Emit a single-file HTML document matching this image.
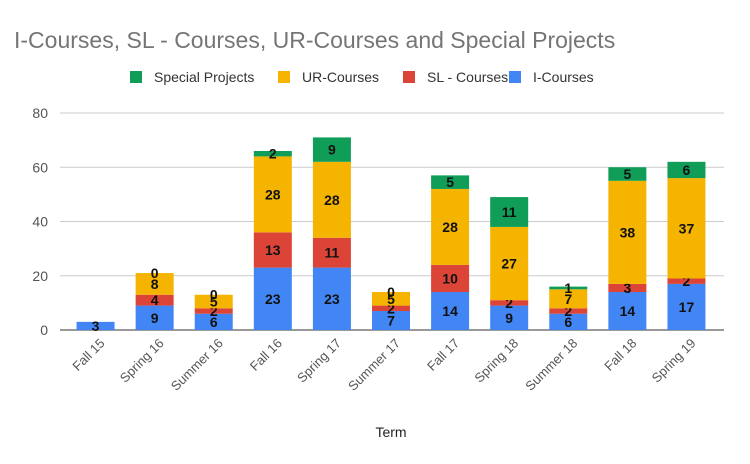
<!DOCTYPE html>
<html><head><meta charset="utf-8"><style>
html,body{margin:0;padding:0;background:#fff;width:750px;height:464px;overflow:hidden}
svg text{font-family:"Liberation Sans",sans-serif}
</style></head><body>
<svg id="chart" width="750" height="464">
<text x="14" y="48" font-size="23" fill="#757575">I-Courses, SL - Courses, UR-Courses  and Special Projects</text>
<g id="legend"></g>
<g id="grid"></g>
<g id="bars"></g>
<g id="xlabels"></g>
<text x="391" y="437" font-size="14" fill="#222" text-anchor="middle">Term</text>
</svg>
<script>
const categories=["Fall 15","Spring 16","Summer 16","Fall 16","Spring 17","Summer 17","Fall 17","Spring 18","Summer 18","Fall 18","Spring 19"];
const iCourses=[3,9,6,23,23,7,14,9,6,14,17];
const slCourses=[0,4,2,13,11,2,10,2,2,3,2];
const urCourses=[0,8,5,28,28,5,28,27,7,38,37];
const specialProjects=[0,0,0,2,9,0,5,11,1,5,6];
const yTicks=[0,20,40,60,80];
const seriesNames=["Special Projects","UR-Courses","SL - Courses","I-Courses"];
const NS="http://www.w3.org/2000/svg";
const plotL=66,plotR=716,y0=330,yTop=113,yMax=80;
const band=(plotR-plotL)/categories.length,barW=38;
const y=v=>y0-(v/yMax)*(y0-yTop);
const xc=i=>plotL+band*(i+0.5);
function mk(tag,attrs,parent){const e=document.createElementNS(NS,tag);for(const k in attrs)e.setAttribute(k,attrs[k]);parent.appendChild(e);return e;}
const grid=document.getElementById('grid');
yTicks.forEach(t=>{
 const l=mk('line',{x1:60,x2:724,y1:y(t),y2:y(t),stroke:t===0?'#333':'#ccc','stroke-width':1},grid);
 
 
 const tx=mk('text',{x:48,y:y(t)+5,'font-size':14,fill:'#555','text-anchor':'end'},grid);
 tx.textContent=t;
 
 
});
const series=[{n:'i-courses',d:iCourses,c:'#4285f4'},{n:'sl-courses',d:slCourses,c:'#db4437'},{n:'ur-courses',d:urCourses,c:'#f4b400'},{n:'special-projects',d:specialProjects,c:'#0f9d58'}];
const bars=document.getElementById('bars');
categories.forEach((cat,i)=>{
 let base=0;
 series.forEach(s=>{
  const v=s.d[i];
  const r=mk('rect',{x:xc(i)-barW/2,y:y(base+v),width:barW,height:Math.max(0,y(base)-y(base+v)),fill:s.c},bars);
  
  
  if(v>0||s.n==='special-projects'&&i!==0&&i!==6&&false){}
  if(v>0||(s.n==='special-projects'&&(i===1||i===2||i===5))){
   const t=mk('text',{x:xc(i),y:(y(base)+y(base+v))/2+5,'font-size':14,'font-weight':'bold',fill:'#111','text-anchor':'middle'},bars);
   t.textContent=v;
   
   
  }
  base+=v;
 });
 const xl=document.getElementById('xlabels');
 const lx=xc(i)+10,ly=344;
 const t=mk('text',{x:lx,y:ly,'font-size':13,fill:'#555','text-anchor':'end',transform:`rotate(-45 ${lx} ${ly})`},xl);
 t.textContent=cat;
 
 
});
const lg=document.getElementById('legend');
const legendCols=['#0f9d58','#f4b400','#db4437','#4285f4'];
const legendX=[130,278,403,509];
seriesNames.forEach((n,i)=>{
 const r=mk('rect',{x:legendX[i],y:71,width:12,height:12,fill:legendCols[i]},lg);
 
 
 const t=mk('text',{x:legendX[i]+24,y:82,'font-size':14,fill:'#333'},lg);
 t.textContent=n;
 
 
});
</script>
</body></html>
